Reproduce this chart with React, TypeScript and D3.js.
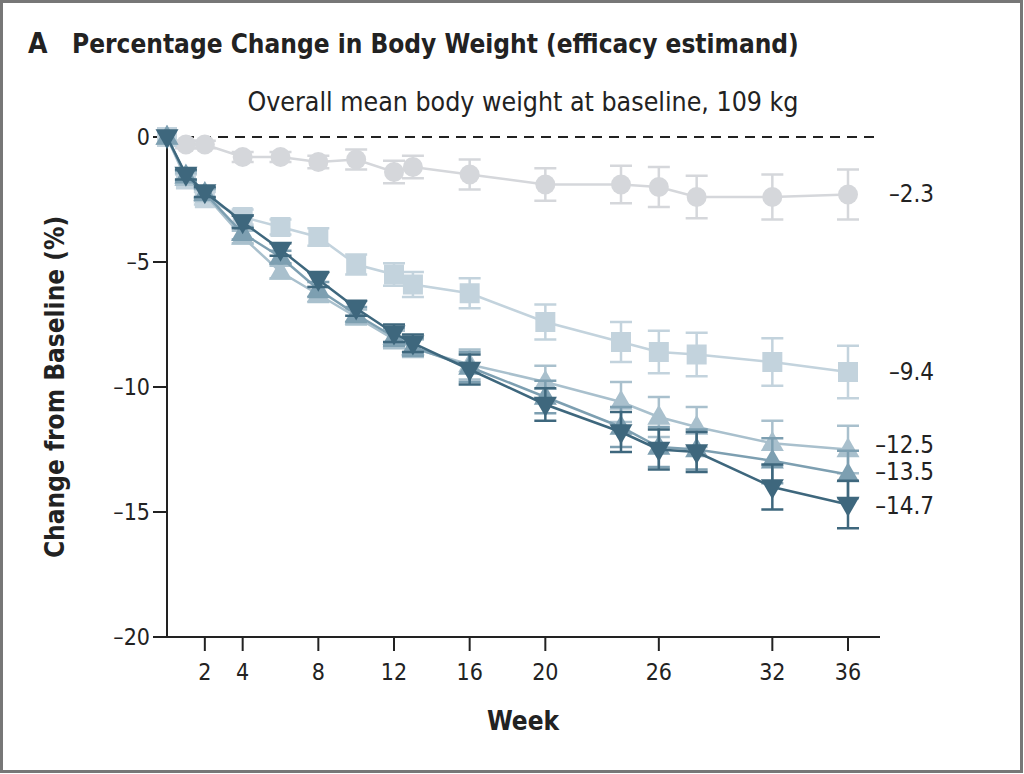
import * as d3 from "d3";
import type { ReactElement } from "react";

const WIDTH = 1024;
const HEIGHT = 774;
const FONT = "'Liberation Sans Narrow', 'DejaVu Sans Condensed', 'Noto Sans', sans-serif";

const weeks = [0, 1, 2, 4, 6, 8, 10, 12, 13, 16, 20, 24, 26, 28, 32, 36];
const xTicks = [2, 4, 8, 12, 16, 20, 26, 32, 36];
const yTicks = [0, -5, -10, -15, -20];

const placebo = [0, -0.3, -0.3, -0.8, -0.8, -1.0, -0.9, -1.4, -1.2, -1.5, -1.9, -1.9, -2.0, -2.4, -2.4, -2.3];
const placeboErr = [0, 0.15, 0.15, 0.2, 0.2, 0.25, 0.4, 0.45, 0.45, 0.6, 0.65, 0.75, 0.8, 0.85, 0.9, 1.0];

const lowDose = [0, -1.7, -2.45, -3.2, -3.6, -4.0, -5.1, -5.5, -5.9, -6.25, -7.4, -8.2, -8.6, -8.7, -9.0, -9.4];
const lowDoseErr = [0, 0.2, 0.25, 0.3, 0.3, 0.35, 0.4, 0.45, 0.5, 0.6, 0.7, 0.8, 0.85, 0.87, 0.95, 1.05];

const midDose = [0, -1.65, -2.3, -4.0, -5.4, -6.3, -7.2, -8.1, -8.45, -9.1, -9.8, -10.6, -11.2, -11.6, -12.25, -12.5];
const highDose = [0, -1.55, -2.25, -3.85, -4.8, -6.1, -7.1, -8.0, -8.4, -9.2, -10.4, -11.6, -12.4, -12.5, -12.95, -13.5];
const topDose = [0, -1.5, -2.2, -3.4, -4.5, -5.7, -6.85, -7.85, -8.25, -9.3, -10.7, -11.8, -12.5, -12.6, -14.0, -14.7];
const triErr = [0, 0.2, 0.2, 0.25, 0.25, 0.3, 0.3, 0.35, 0.35, 0.6, 0.65, 0.8, 0.8, 0.8, 0.9, 0.95];

const endLabels = ["–2.3", "–9.4", "–12.5", "–13.5", "–14.7"];

type Shape = "circle" | "square" | "up" | "down";
type Series = { values: number[]; err: number[]; color: string; shape: Shape; label: string };

const series: Series[] = [
  { values: placebo, err: placeboErr, color: "#d5d7db", shape: "circle", label: endLabels[0] },
  { values: lowDose, err: lowDoseErr, color: "#c3d3dd", shape: "square", label: endLabels[1] },
  { values: midDose, err: triErr, color: "#a9c0cd", shape: "up", label: endLabels[2] },
  { values: highDose, err: triErr, color: "#7d9fb1", shape: "up", label: endLabels[3] },
  { values: topDose, err: triErr, color: "#3e677d", shape: "down", label: endLabels[4] },
];

const x = d3.scaleLinear().domain([0, 36]).range([167, 848]);
const y = d3.scaleLinear().domain([-20, 0]).range([637, 137]);

const triPath = d3.symbol(d3.symbolTriangle, 230)() ?? "";

const Marker = ({ shape, cx, cy, color }: { shape: Shape; cx: number; cy: number; color: string }): ReactElement => {
  if (shape === "circle") return <circle cx={cx} cy={cy} r={10} fill={color} />;
  if (shape === "square") return <rect x={cx - 10} y={cy - 10} width={20} height={20} fill={color} />;
  const rot = shape === "down" ? 180 : 0;
  return <path d={triPath} transform={`translate(${cx},${cy + (shape === "down" ? -1 : 1)}) rotate(${rot})`} fill={color} />;
};

export default function App(): ReactElement {
  const line = d3
    .line<number>()
    .x((_, i) => x(weeks[i]))
    .y((v) => y(v));
  // end label y positions, spread a little where they would collide
  const labelY = [194, 372, 445, 472, 506];

  return (
    <svg
      width={WIDTH}
      height={HEIGHT}
      style={{ position: "absolute", left: 0, top: 0, background: "#fff" }}
      fontFamily={FONT}
    >
      <rect x={1.5} y={1.5} width={WIDTH - 4} height={HEIGHT - 4} fill="#fff" stroke="#777" strokeWidth={3} />

      <text x={28} y={53} fontSize={28} fontWeight="700" fill="#222">
        A
      </text>
      <text x={72} y={53} fontSize={26} fontWeight="700" fill="#222">
        Percentage Change in Body Weight (efficacy estimand)
      </text>
      <text x={523} y={111} fontSize={26.5} textAnchor="middle" fill="#222">
        Overall mean body weight at baseline, 109 kg
      </text>

      {/* baseline */}
      <line x1={x(0)} x2={880} y1={y(0)} y2={y(0)} stroke="#222" strokeWidth={2.2} strokeDasharray="10,7" />

      {/* axes */}
      <line x1={x(0)} x2={x(0)} y1={y(0)} y2={y(-20)} stroke="#222" strokeWidth={2} />
      <line x1={x(0)} x2={880} y1={y(-20)} y2={y(-20)} stroke="#222" strokeWidth={2} />
      {yTicks.map((t) => (
        <g key={t}>
          <line x1={x(0) - 14} x2={x(0)} y1={y(t)} y2={y(t)} stroke="#222" strokeWidth={2} />
          <text x={x(0) - 17} y={y(t) + 8} fontSize={23} textAnchor="end" fill="#222">
            {t === 0 ? "0" : `–${Math.abs(t)}`}
          </text>
        </g>
      ))}
      {xTicks.map((t) => (
        <g key={t}>
          <line x1={x(t)} x2={x(t)} y1={y(-20)} y2={y(-20) + 14} stroke="#222" strokeWidth={2} />
          <text x={x(t)} y={y(-20) + 43} fontSize={23} textAnchor="middle" fill="#222">
            {t}
          </text>
        </g>
      ))}
      <text x={523} y={730} fontSize={26} fontWeight="700" textAnchor="middle" fill="#222">
        Week
      </text>
      <text
        transform={`translate(64,${y(-10)}) rotate(-90)`}
        fontSize={26}
        fontWeight="700"
        textAnchor="middle"
        fill="#222"
      >
        Change from Baseline (%)
      </text>

      {/* series */}
      {series.map((s, si) => (
        <g key={si}>
          <path d={line(s.values) ?? ""} fill="none" stroke={s.color} strokeWidth={2.5} />
          {s.values.map((v, i) =>
            s.err[i] > 0 ? (
              <g key={i} stroke={s.color} strokeWidth={2.5}>
                <line x1={x(weeks[i])} x2={x(weeks[i])} y1={y(v + s.err[i])} y2={y(v - s.err[i])} />
                <line x1={x(weeks[i]) - 11} x2={x(weeks[i]) + 11} y1={y(v + s.err[i])} y2={y(v + s.err[i])} />
                <line x1={x(weeks[i]) - 11} x2={x(weeks[i]) + 11} y1={y(v - s.err[i])} y2={y(v - s.err[i])} />
              </g>
            ) : null,
          )}
          {s.values.map((v, i) => (
            <Marker key={i} shape={s.shape} cx={x(weeks[i])} cy={y(v)} color={s.color} />
          ))}
          <text x={934} y={labelY[si] + 8} fontSize={24} textAnchor="end" fill="#222">
            {s.label}
          </text>
        </g>
      ))}
    </svg>
  );
}
